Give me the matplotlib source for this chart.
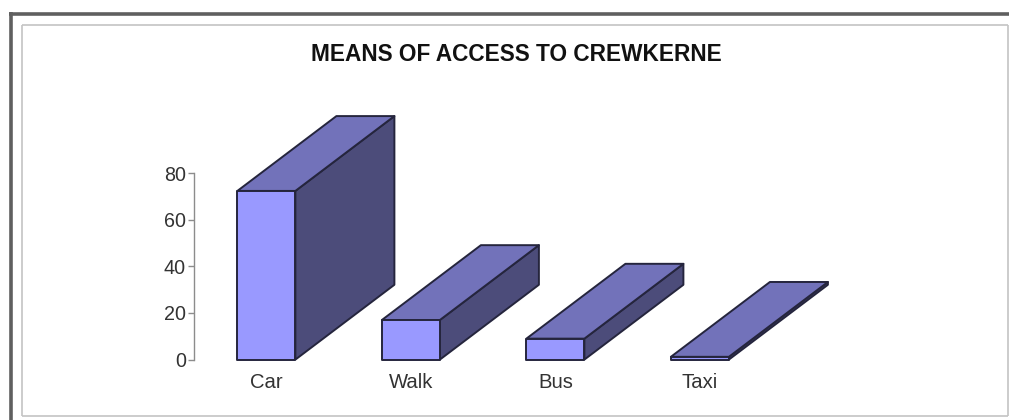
import matplotlib
matplotlib.use('Agg')
import matplotlib.pyplot as plt
from matplotlib.lines import Line2D
from matplotlib.patches import Polygon

categories = ['Car', 'Walk', 'Bus', 'Taxi']
values = [72.4, 17, 9, 1.2]
y_ticks = [0, 20, 40, 60, 80]

W, H = 1009, 420
BAR_W = 58 / 144.5
DEPTH_X = 99 / 144.5
DEPTH_Y = 74.5 / 2.32

plt.rcParams['font.family'] = ['Liberation Sans', 'DejaVu Sans']

fig = plt.figure(figsize=(W / 100, H / 100), dpi=100, facecolor='white')


def fig_line(xs, ys, color, lw):
    # page frame lines, given in pixels from the top left
    fig.add_artist(Line2D([x / W for x in xs], [1 - y / H for y in ys],
                          color=color, lw=lw, solid_capstyle='butt'))


fig_line([10.7, 10.7], [12, H], '#5f5f5f', 2.6)
fig_line([9, W], [13.8, 13.8], '#5f5f5f', 2.6)
fig_line([22, 22], [24.5, 416], '#c4c4c4', 1.2)
fig_line([21.5, 1008], [25, 25], '#c4c4c4', 1.2)
fig_line([1008, 1008], [24.5, 416], '#c4c4c4', 1.2)
fig_line([21.5, 1008], [416, 416], '#c4c4c4', 1.2)

# axes spans 0..80 on the value scale, bars overflow it for the 3D look
left, right, top, bottom = 194, 830, 173.2, 359.6
ax = fig.add_axes([left / W, 1 - bottom / H, (right - left) / W, (bottom - top) / H])
ax.patch.set_alpha(0)
ax.set_xlim((left - 266.4) / 144.5, (right - 266.4) / 144.5)
ax.set_ylim(0, 80)

for i, v in enumerate(values):
    x0, x1 = i - BAR_W / 2, i + BAR_W / 2
    style = dict(edgecolor='#25253d', lw=1.4, joinstyle='round', clip_on=False)
    ax.add_patch(Polygon([(x1, 0), (x1 + DEPTH_X, DEPTH_Y), (x1 + DEPTH_X, v + DEPTH_Y), (x1, v)],
                         facecolor='#4c4c7a', **style))
    ax.add_patch(Polygon([(x0, v), (x1, v), (x1 + DEPTH_X, v + DEPTH_Y), (x0 + DEPTH_X, v + DEPTH_Y)],
                         facecolor='#7272ba', **style))
    ax.add_patch(Polygon([(x0, 0), (x1, 0), (x1, v), (x0, v)],
                         facecolor='#9999ff', **style))

for side in ['top', 'right', 'bottom']:
    ax.spines[side].set_visible(False)
ax.spines['left'].set_color('#8c8c8c')
ax.spines['left'].set_linewidth(1.0)

ax.set_yticks(y_ticks)
ax.tick_params(axis='y', length=4, width=1.0, color='#8c8c8c', labelcolor='#333333',
               labelsize=14.2, pad=1.8)
ax.set_xticks(range(len(categories)))
ax.set_xticklabels(categories)
ax.tick_params(axis='x', length=0, labelcolor='#333333', labelsize=14.6, pad=10)

fig.text(516.5 / W, 1 - 54.6 / H, 'MEANS OF ACCESS TO CREWKERNE', ha='center', va='center',
         fontsize=16.3, fontweight='bold', color='#111111')

fig.savefig('out.png', dpi=100)
